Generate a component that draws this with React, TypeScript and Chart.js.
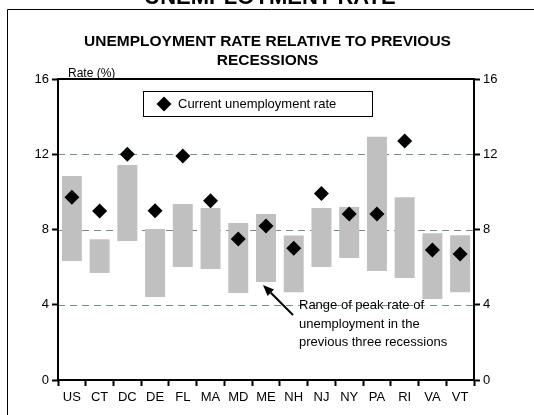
import React, { useEffect, useRef } from "react";
import { Chart, registerables } from "chart.js";

Chart.register(...registerables);

const categories = ["US", "CT", "DC", "DE", "FL", "MA", "MD", "ME", "NH", "NJ", "NY", "PA", "RI", "VA", "VT"];
const rangeLow = [6.33, 5.69, 7.39, 4.41, 6.01, 5.9, 4.62, 5.21, 4.67, 6.01, 6.49, 5.79, 5.42, 4.3, 4.67];
const rangeHigh = [10.84, 7.48, 11.43, 8.02, 9.35, 9.14, 8.34, 8.82, 7.68, 9.14, 9.19, 12.93, 9.72, 7.8, 7.7];
const currentRate = [9.71, 8.99, 12.0, 9.0, 11.91, 9.53, 7.5, 8.18, 7.0, 9.92, 8.82, 8.82, 12.71, 6.91, 6.7];
const yTicks = [0, 4, 8, 12, 16];
const gridValues = [4, 8, 12];

const pageTitle = "UNEMPLOYMENT RATE";
const titleLines = ["UNEMPLOYMENT RATE RELATIVE TO PREVIOUS", "RECESSIONS"];
const yAxisLabel = "Rate (%)";
const legendLabel = "Current unemployment rate";
const noteLines = ["Range of peak rate of", "unemployment in the", "previous three recessions"];

const FONT = "'Liberation Sans', Arial, Helvetica, sans-serif";

function diamond(ctx: CanvasRenderingContext2D, x: number, y: number, r: number) {
  ctx.beginPath();
  ctx.moveTo(x, y - r);
  ctx.lineTo(x + r, y);
  ctx.lineTo(x, y + r);
  ctx.lineTo(x - r, y);
  ctx.closePath();
  ctx.fill();
}

const overlay = {
  id: "overlay",
  beforeDatasetsDraw(chart: any) {
    const { ctx, chartArea, scales } = chart;
    ctx.save();
    ctx.strokeStyle = "#6f918d";
    ctx.lineWidth = 1;
    ctx.setLineDash([7, 5]);
    gridValues.forEach((v) => {
      const y = Math.round(scales.y.getPixelForValue(v)) + 0.5;
      ctx.beginPath();
      ctx.moveTo(chartArea.left, y);
      ctx.lineTo(chartArea.right, y);
      ctx.stroke();
    });
    ctx.restore();
  },
  afterDraw(chart: any) {
    const { ctx, chartArea, scales } = chart;
    ctx.save();
    // outer frame
    ctx.strokeStyle = "#000";
    ctx.lineWidth = 1;
    ctx.beginPath();
    ctx.moveTo(7.5, 700);
    ctx.lineTo(7.5, 9.5);
    ctx.lineTo(700, 9.5);
    ctx.stroke();

    // plot border
    ctx.lineWidth = 2;
    ctx.strokeRect(chartArea.left, chartArea.top, chartArea.right - chartArea.left, chartArea.bottom - chartArea.top);

    // cut-off page title
    ctx.fillStyle = "#000";
    ctx.textAlign = "center";
    ctx.textBaseline = "alphabetic";
    ctx.font = `bold 22px ${FONT}`;
    ctx.fillText(pageTitle, 270, 4);

    // chart title
    ctx.font = `bold 15.5px ${FONT}`;
    ctx.fillText(titleLines[0], 267.5, 46);
    ctx.fillText(titleLines[1], 267.5, 65);

    // y-axis label
    ctx.textAlign = "left";
    ctx.font = `12px ${FONT}`;
    ctx.fillText(yAxisLabel, 68, 77);

    // legend box
    ctx.fillStyle = "#fff";
    ctx.fillRect(143, 91, 229, 25);
    ctx.lineWidth = 1;
    ctx.strokeStyle = "#000";
    ctx.strokeRect(143.5, 91.5, 229, 25);
    ctx.fillStyle = "#000";
    diamond(ctx, 164, 104, 7.5);
    ctx.font = `13px ${FONT}`;
    ctx.textBaseline = "middle";
    ctx.fillText(legendLabel, 178, 104);

    // annotation arrow
    const tipX = scales.x.getPixelForValue(7) - 3;
    const tipY = scales.y.getPixelForValue(rangeLow[7]) + 3;
    const tailX = 293;
    const tailY = 315;
    const ang = Math.atan2(tipY - tailY, tipX - tailX);
    const headLen = 11;
    const headHalf = 4.5;
    const baseX = tipX - Math.cos(ang) * headLen;
    const baseY = tipY - Math.sin(ang) * headLen;
    ctx.lineWidth = 2;
    ctx.beginPath();
    ctx.moveTo(tailX, tailY);
    ctx.lineTo(baseX, baseY);
    ctx.stroke();
    ctx.beginPath();
    ctx.moveTo(tipX, tipY);
    ctx.lineTo(baseX + Math.sin(ang) * headHalf, baseY - Math.cos(ang) * headHalf);
    ctx.lineTo(baseX - Math.sin(ang) * headHalf, baseY + Math.cos(ang) * headHalf);
    ctx.closePath();
    ctx.fill();

    ctx.textBaseline = "alphabetic";
    ctx.font = `13px ${FONT}`;
    noteLines.forEach((line, i) => ctx.fillText(line, 299, 309 + i * 18.5));
    ctx.restore();
  },
};

export default function App() {
  const ref = useRef<HTMLCanvasElement | null>(null);
  useEffect(() => {
    if (!ref.current) return;
    const tickFont = { family: FONT, size: 13 };
    const chart = new Chart(ref.current, {
      type: "bar",
      data: {
        labels: categories,
        datasets: [
          {
            type: "line",
            label: legendLabel,
            data: currentRate,
            showLine: false,
            pointStyle: "rectRot",
            pointRadius: 7.5,
            pointBackgroundColor: "#000",
            pointBorderWidth: 0,
            pointBorderColor: "#000",
            order: 0,
          } as any,
          {
            type: "bar",
            label: "Range",
            data: categories.map((_, i) => [rangeLow[i], rangeHigh[i]]),
            backgroundColor: "#c0c0c0",
            borderWidth: 0,
            barPercentage: 0.72,
            categoryPercentage: 1,
            order: 1,
          } as any,
        ],
      },
      options: {
        responsive: false,
        animation: false,
        devicePixelRatio: window.devicePixelRatio || 1,
        layout: { padding: { top: 79, left: 0, right: 0, bottom: 0 } },
        plugins: {
          legend: { display: false },
          title: { display: false },
          tooltip: { enabled: false },
        },
        scales: {
          x: {
            type: "category",
            offset: true,
            grid: {
              offset: true,
              drawOnChartArea: false,
              tickLength: 6,
              tickColor: "#000",
              tickWidth: 2,
            },
            border: { display: false },
            ticks: { color: "#000", font: { family: FONT, size: 13 }, padding: 4, maxRotation: 0, autoSkip: false },
            afterFit: (s: any) => {
              s.height = 35;
            },
          },
          y: {
            type: "linear",
            position: "left",
            min: 0,
            max: 16,
            afterBuildTicks: (s: any) => {
              s.ticks = yTicks.map((v) => ({ value: v }));
            },
            grid: { drawOnChartArea: false, tickLength: 6, tickColor: "#000", tickWidth: 2 },
            border: { display: false },
            ticks: { color: "#000", font: tickFont, padding: 3 },
            afterFit: (s: any) => {
              s.width = 58;
            },
          },
          y2: {
            type: "linear",
            position: "right",
            min: 0,
            max: 16,
            afterBuildTicks: (s: any) => {
              s.ticks = yTicks.map((v) => ({ value: v }));
            },
            grid: { drawOnChartArea: false, tickLength: 6, tickColor: "#000", tickWidth: 2 },
            border: { display: false },
            ticks: { color: "#000", font: tickFont, padding: 3 },
            afterFit: (s: any) => {
              s.width = 60;
            },
          },
        },
      } as any,
      plugins: [overlay],
    });
    return () => chart.destroy();
  }, []);

  return (
    <div style={{ position: "fixed", left: 0, top: 0, width: 534, height: 415, background: "#fff", overflow: "hidden" }}>
      <canvas ref={ref} width={534} height={415} style={{ display: "block", width: 534, height: 415 }} />
    </div>
  );
}
